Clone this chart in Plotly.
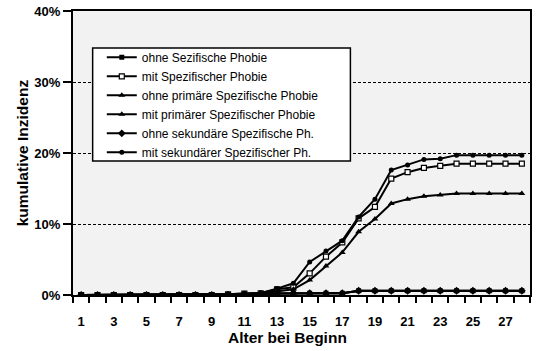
import plotly.graph_objects as go

# Alter bei Beginn (Jahre)
ages = list(range(1, 29))

# Kumulative Inzidenz in %
ohne_spez = [0, 0, 0, 0, 0, 0, 0, 0, 0, 0.05, 0.1, 0.1, 0.2, 0.25, 0.25, 0.25, 0.25,
             0.6, 0.6, 0.6, 0.6, 0.6, 0.6, 0.6, 0.6, 0.6, 0.6, 0.6]
mit_spez = [0, 0, 0, 0, 0, 0, 0, 0, 0, 0.1, 0.2, 0.25, 0.8, 1.1, 3.05, 5.4, 7.4,
            10.8, 12.4, 16.4, 17.3, 17.9, 18.2, 18.5, 18.5, 18.5, 18.5, 18.5]
ohne_prim = [0, 0, 0, 0, 0, 0, 0, 0, 0, 0.05, 0.1, 0.1, 0.2, 0.25, 0.25, 0.25, 0.25,
             0.55, 0.55, 0.55, 0.55, 0.55, 0.55, 0.55, 0.55, 0.55, 0.55, 0.55]
mit_prim = [0, 0, 0, 0, 0, 0, 0, 0, 0, 0.05, 0.1, 0.2, 0.5, 0.8, 2.1, 4.1, 6.0,
            8.9, 10.7, 12.9, 13.5, 13.9, 14.1, 14.3, 14.3, 14.3, 14.3, 14.3]
ohne_sek = [0, 0, 0, 0, 0, 0, 0, 0, 0, 0.05, 0.1, 0.1, 0.2, 0.25, 0.25, 0.25, 0.25,
            0.6, 0.6, 0.6, 0.6, 0.6, 0.6, 0.6, 0.6, 0.6, 0.6, 0.6]
mit_sek = [0, 0, 0, 0, 0, 0, 0, 0, 0, 0.1, 0.2, 0.3, 0.9, 1.65, 4.65, 6.2, 7.65,
           11.0, 13.5, 17.6, 18.3, 19.1, 19.2, 19.7, 19.7, 19.7, 19.7, 19.7]

series_names = [
    "ohne Sezifische Phobie",
    "mit Spezifischer Phobie",
    "ohne primäre Spezifische Phobie",
    "mit primärer Spezifischer Phobie",
    "ohne sekundäre Spezifische Ph.",
    "mit sekundärer Spezifischer Ph.",
]
series_values = [ohne_spez, mit_spez, ohne_prim, mit_prim, ohne_sek, mit_sek]
markers = [
    dict(symbol="square", size=5, color="black"),
    dict(symbol="square", size=5, color="white", line=dict(color="black", width=1.2)),
    dict(symbol="triangle-up", size=6, color="black"),
    dict(symbol="triangle-up", size=6, color="black"),
    dict(symbol="diamond", size=6, color="black"),
    dict(symbol="circle", size=5, color="black"),
]

x_tick_vals = list(range(1, 28, 2))
x_tick_text = [str(v) for v in x_tick_vals]
y_tick_vals = [0, 10, 20, 30, 40]
y_tick_text = ["0%", "10%", "20%", "30%", "40%"]

FONT = "Liberation Sans, Arial, sans-serif"
TITLE_FONT = dict(size=15.5, family=FONT, weight="bold", color="black")

fig = go.Figure()
for name, vals, mk in zip(series_names, series_values, markers):
    fig.add_trace(go.Scatter(
        x=ages, y=vals, name=name, mode="lines+markers",
        line=dict(color="black", width=2),
        marker=mk,
    ))

# Legend frame (drawn over the grid; the legend itself sits on top)
fig.add_shape(type="rect", xref="paper", yref="paper",
              x0=0.043, x1=0.607, y0=0.472, y1=0.870,
              fillcolor="white", line=dict(color="black", width=1.5),
              layer="above")

# Axis titles
fig.add_annotation(text="Alter bei Beginn", xref="paper", yref="paper",
                   x=0.469, y=-0.151, xanchor="center", yanchor="middle",
                   showarrow=False, font=TITLE_FONT)
fig.add_annotation(text="kumulative Inzidenz", xref="paper", yref="paper",
                   x=-0.111, y=0.5, xanchor="center", yanchor="middle",
                   textangle=-90, showarrow=False, font=TITLE_FONT)

fig.update_layout(
    width=540, height=351,
    margin=dict(l=73, r=10, t=11, b=56, autoexpand=False),
    paper_bgcolor="white",
    plot_bgcolor="#f2f2f2",
    font=dict(family=FONT, color="black"),
    showlegend=True,
    legend=dict(
        x=0.063, y=0.888, xanchor="left", yanchor="top",
        bgcolor="rgba(0,0,0,0)", borderwidth=0,
        font=dict(size=12, family=FONT, color="black"),
        itemwidth=30, tracegroupgap=0,
    ),
    xaxis=dict(
        range=[0.5, 28.5], automargin=False,
        tickvals=x_tick_vals, ticktext=x_tick_text,
        ticks="outside", ticklen=13, tickcolor="rgba(0,0,0,0)",
        showgrid=False, zeroline=False,
        showline=True, linecolor="black", linewidth=2, mirror=True,
        tickfont=dict(size=13, family=FONT, weight="bold"),
        minor=dict(tick0=0.5, dtick=1, ticks="outside", ticklen=6,
                   tickcolor="black", tickwidth=1.5, showgrid=False),
    ),
    yaxis=dict(
        range=[0, 40], automargin=False,
        tickvals=y_tick_vals, ticktext=y_tick_text,
        ticks="outside", ticklen=8, tickcolor="black", tickwidth=1.5,
        showgrid=True, gridcolor="black", gridwidth=1, griddash="3px,2px",
        zeroline=False,
        showline=True, linecolor="black", linewidth=2, mirror=True,
        tickfont=dict(size=13, family=FONT, weight="bold"),
    ),
)

fig.write_html("out.html")
